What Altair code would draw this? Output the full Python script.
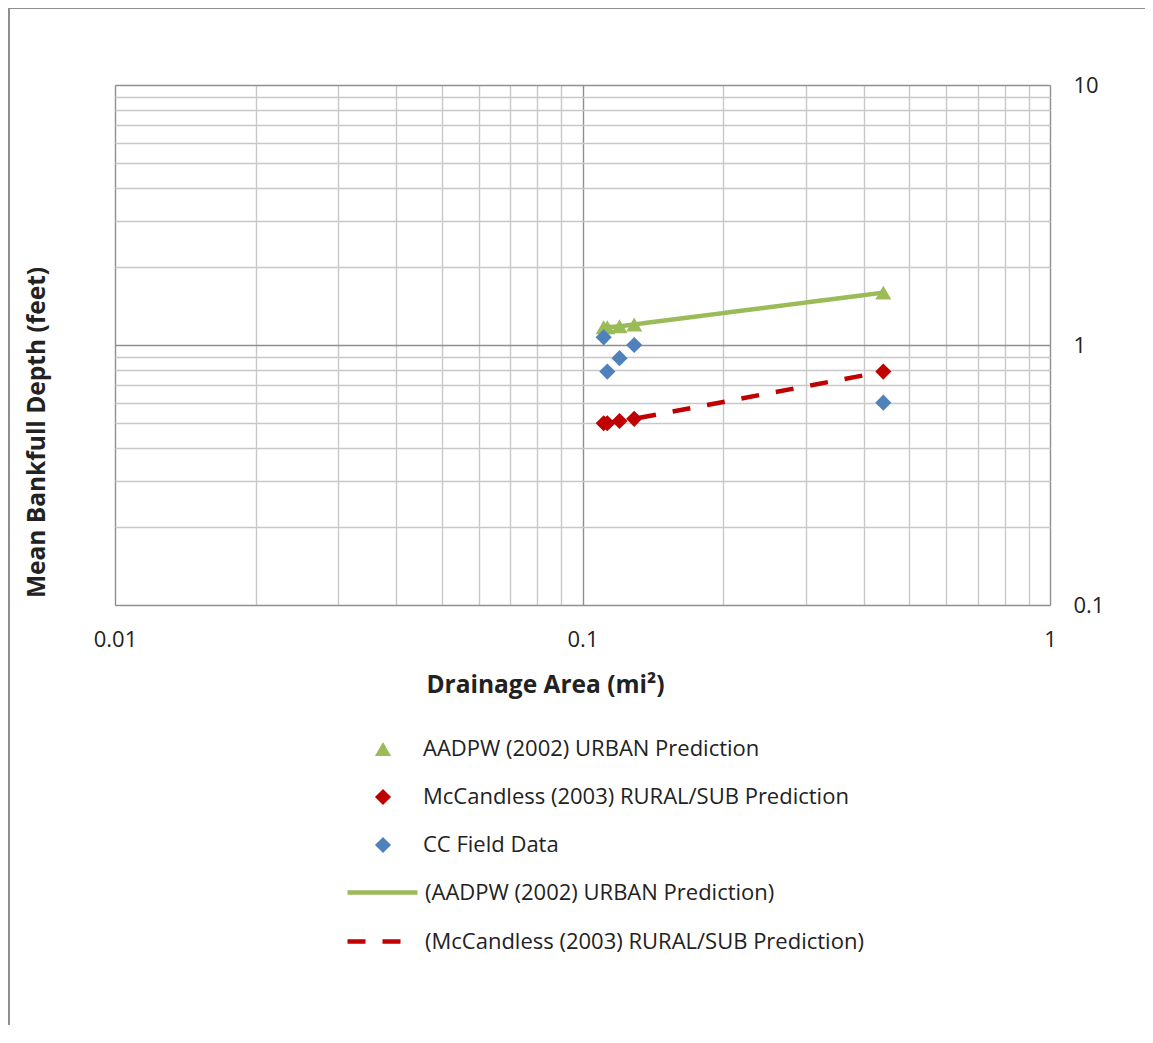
import altair as alt
import pandas as pd

# ---- data ----
area = [0.111, 0.113, 0.120, 0.129, 0.44]
urban_pred = [1.17, 1.17, 1.18, 1.20, 1.59]
rural_pred = [0.50, 0.50, 0.51, 0.52, 0.79]
field_area = [0.111, 0.113, 0.120, 0.129, 0.44]
field_depth = [1.07, 0.79, 0.89, 1.00, 0.60]

s_urban = "AADPW (2002) URBAN Prediction"
s_rural = "McCandless (2003) RURAL/SUB Prediction"
s_field = "CC Field Data"
l_urban = "(AADPW (2002) URBAN Prediction)"
l_rural = "(McCandless (2003) RURAL/SUB Prediction)"

x_ticks = [0.01, 0.02, 0.03, 0.04, 0.05, 0.06, 0.07, 0.08, 0.09,
           0.1, 0.2, 0.3, 0.4, 0.5, 0.6, 0.7, 0.8, 0.9, 1]
y_ticks = [0.1, 0.2, 0.3, 0.4, 0.5, 0.6, 0.7, 0.8, 0.9,
           1, 2, 3, 4, 5, 6, 7, 8, 9, 10]

GREEN = "#9BBB59"
RED = "#C00000"
BLUE = "#4F81BD"
FONT = "Open Sans"
TXT = "#222222"

pts = pd.DataFrame(
    [{"area": a, "depth": d, "series": s_urban} for a, d in zip(area, urban_pred)]
    + [{"area": a, "depth": d, "series": s_rural} for a, d in zip(area, rural_pred)]
    + [{"area": a, "depth": d, "series": s_field} for a, d in zip(field_area, field_depth)]
)
lines = pd.DataFrame(
    [{"area": a, "depth": d, "series": l_urban} for a, d in zip(area, urban_pred)]
    + [{"area": a, "depth": d, "series": l_rural} for a, d in zip(area, rural_pred)]
)

decade = "abs(log(datum.value)/LN10 - round(log(datum.value)/LN10)) < 1e-6"
grid_color = {"condition": {"test": decade, "value": "#8f8f8f"}, "value": "#c8c8c8"}

x_axis = alt.Axis(
    values=x_ticks, labelExpr=f"{decade} ? format(datum.value, '~g') : ''",
    grid=True, gridColor=grid_color, gridWidth=1.4, domain=False, ticks=False,
    labelFont=FONT, labelFontSize=22, labelColor=TXT, labelPadding=24,
    labelFlush=False, labelOverlap=False,
    title="Drainage Area (mi²)", titleFont=FONT, titleFontSize=24.5,
    titleFontWeight="bold", titleColor=TXT, titleX=430, titleY=80,
    titleAlign="center", titleBaseline="middle", titleAngle=0,
)
y_axis = alt.Axis(
    orient="right", values=y_ticks,
    labelExpr=f"{decade} ? format(datum.value, '~g') : ''",
    grid=True, gridColor=grid_color, gridWidth=1.4, domain=False, ticks=False,
    labelFont=FONT, labelFontSize=22, labelColor=TXT, labelPadding=23,
    labelFlush=False, labelOverlap=False, labelBaseline="middle",
    title="Mean Bankfull Depth (feet)", titleFont=FONT, titleFontSize=24.5,
    titleFontWeight="bold", titleColor=TXT, titleX=-1013, titleY=347,
    titleAlign="center", titleBaseline="middle", titleAngle=270,
)

X = alt.X("area:Q", scale=alt.Scale(type="log", domain=[0.01, 1], nice=False), axis=x_axis)
Y = alt.Y("depth:Q", scale=alt.Scale(type="log", domain=[0.1, 10], nice=False), axis=y_axis)

pt_legend = alt.Legend(
    title=None, orient="none", legendX=257, legendY=653, direction="vertical",
    labelFont=FONT, labelFontSize=22, labelColor=TXT, labelLimit=700,
    symbolSize=260, labelOffset=29, rowPadding=26, symbolStrokeWidth=0,
)
ln_legend = alt.Legend(
    title=None, orient="none", legendX=230, legendY=770, direction="vertical",
    labelFont=FONT, labelFontSize=22, labelColor=TXT, labelLimit=700,
    symbolType="stroke", symbolSize=4900, symbolStrokeWidth=4.5,
    labelOffset=5, rowPadding=-2,
)

frame = alt.Chart(alt.Data(values=[{"k": 0}])).mark_rect(
    fill="transparent", stroke="#8f8f8f", strokeWidth=2
).encode(
    x=alt.value(-106), x2=alt.value(1400), y=alt.value(-77), y2=alt.value(1400)
)

line_layer = alt.Chart(lines).mark_line(strokeWidth=4.5).encode(
    x=X, y=Y,
    color=alt.Color("series:N", scale=alt.Scale(domain=[l_urban, l_rural], range=[GREEN, RED]),
                    legend=ln_legend),
    strokeDash=alt.StrokeDash("series:N",
                              scale=alt.Scale(domain=[l_urban, l_rural], range=[[1, 0], [18, 17]]),
                              legend=ln_legend),
)

point_layer = alt.Chart(pts).mark_point(filled=True, size=260, opacity=1).encode(
    x=X, y=Y,
    color=alt.Color("series:N", scale=alt.Scale(domain=[s_urban, s_rural, s_field],
                                                range=[GREEN, RED, BLUE]),
                    legend=pt_legend),
    shape=alt.Shape("series:N", scale=alt.Scale(domain=[s_urban, s_rural, s_field],
                                                range=["triangle-up", "diamond", "diamond"]),
                    legend=pt_legend),
)

chart = alt.layer(frame, line_layer, point_layer).resolve_scale(
    color="independent", shape="independent", strokeDash="independent"
).properties(
    width=935, height=520,
    autosize=alt.AutoSizeParams(type="none"),
    padding={"left": 107, "top": 77, "right": 95, "bottom": 420},
).configure_view(
    stroke="#8f8f8f", strokeWidth=1.5
).configure(background="white")

chart.save("out.html", embed_options={"renderer": "svg", "actions": False})
